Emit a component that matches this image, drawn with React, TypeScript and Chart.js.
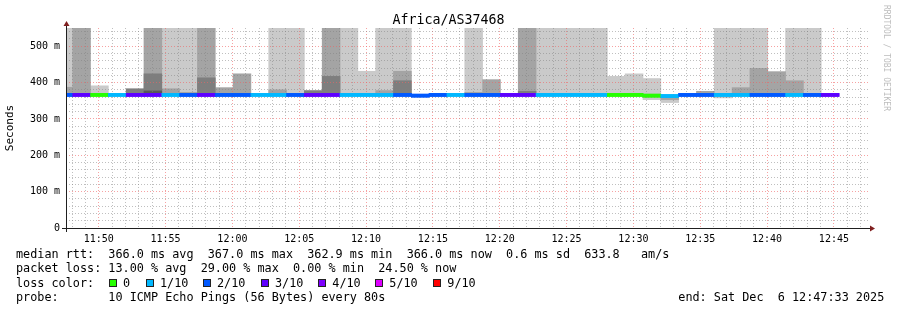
import React, { useEffect, useRef } from "react";
import { Chart, registerables } from "chart.js";

Chart.register(...registerables);

const FONT = '"DejaVu Sans Mono", "Liberation Mono", monospace';

// ---- time axis ----
const AXIS_START = "11:47:33";
const AXIS_END = "12:47:33";
const FIRST_STEP_START = "11:46:43";
const STEP_SECONDS = 80;
const xTickLabels = ["11:50", "11:55", "12:00", "12:05", "12:10", "12:15", "12:20", "12:25", "12:30", "12:35", "12:40", "12:45"];

// ---- value axis ----
const Y_MAX = 550;
const yTickValues = [0, 100, 200, 300, 400, 500];
const yTickLabels = ["0", "100 m", "200 m", "300 m", "400 m", "500 m"];

// ---- data (one entry per 80 s step) ----
const T = 600; // beyond the top of the graph
const medianMs = [
  366, 366, 366, 366, 366, 366, 366, 366, 366, 366, 366,
  366, 366, 366, 366, 366, 366, 366, 366, 366, 364, 366,
  366, 366, 366, 366, 366, 366, 366, 366, 366, 366, 366,
  364, 362.9, 366, 366, 366, 366, 366, 366, 366, 366, 366,
];
const lossTenths = [
  2, 3, 0, 1, 3, 3, 1, 2, 3, 2, 2,
  1, 1, 2, 3, 3, 1, 1, 1, 2, 2, 2,
  1, 2, 2, 3, 3, 1, 1, 1, 1, 0, 0,
  0, 1, 2, 2, 1, 1, 2, 2, 1, 2, 3,
];
type R = [number, number] | null;
const smokeLight: R[] = [
  [365, T], null, [365, 391], null, null, null, [365, T], [365, T], null, null, null,
  null, [365, T], [365, T], null, null, [365, T], [365, 431], [365, T], [365, T], null, null,
  null, [365, T], null, null, null, [365, T], [365, T], [365, T], [365, T], [365, 417], [365, 424],
  [353, 411], [345, 363], null, null, [358, T], [365, T], [365, T], null, [365, T], [365, T], null,
];
const smokeMid: R[] = [
  [365, 387], [365, T], null, null, null, [365, T], [365, 383], [365, 373], [365, T], [365, 386], [365, 424],
  null, [365, 380], null, null, [365, T], null, null, [365, 378], [365, 431], null, null,
  null, [365, 373], [365, 408], null, [365, T], null, null, null, null, null, null,
  null, [353, 363], null, [365, 376], null, [365, 386], [365, 439], [365, 430], [365, 405], null, null,
];
const smokeDark: R[] = [
  null, null, null, null, [365, 383], [365, 424], null, null, [365, 413], null, null,
  null, null, null, [365, 378], [365, 417], null, null, null, [365, 405], null, null,
  null, null, null, null, [365, 376], null, null, null, null, null, null,
  null, null, null, null, null, null, null, null, null, null, null,
];
const smokeDarker: R[] = [
  null, null, null, null, null, [365, 377], null, null, null, null, null,
  null, null, null, null, null, null, null, null, null, null, null,
  null, null, null, null, null, null, null, null, null, null, null,
  null, null, null, null, null, null, null, null, null, null, null,
];

const lossLabels = ["0", "1/10", "2/10", "3/10", "4/10", "5/10", "9/10"];
const lossColors = ["#26ff00", "#00b8ff", "#0059ff", "#5e00ff", "#7e00ff", "#dd00ff", "#ff0000"];
const smokeColors = ["#cacaca", "#a4a4a4", "#7e7e7e", "#585858"];

const statsLine1 = "median rtt:  366.0 ms avg  367.0 ms max  362.9 ms min  366.0 ms now  0.6 ms sd  633.8   am/s";
const statsLine2 = "packet loss: 13.00 % avg  29.00 % max  0.00 % min  24.50 % now";
const probeLine = "probe:       10 ICMP Echo Pings (56 Bytes) every 80s";
const endLine = "end: Sat Dec  6 12:47:33 2025";
const titleText = "Africa/AS37468";

// layout of the drawing (pixels)
const W = 897;
const H = 310;
const PAD = { left: 0, right: 29, top: 28, bottom: 62 };
const Y_AXIS_W = 66;
const X_AXIS_H = 20;

const toSec = (s: string) => {
  const p = s.split(":").map(Number);
  return p[0] * 3600 + p[1] * 60 + (p[2] || 0);
};

const lossColor = (l: number) => (l <= 5 ? lossColors[l] : lossColors[6]);

const MINOR = "rgba(128,128,128,0.5)";
const MAJOR = "rgba(240,100,100,0.6)";
const GRID_DASH = [1, 2];

const axesPlugin = {
  id: "rrdAxes",
  afterDraw(chart: any) {
    const { ctx, chartArea: a } = chart;
    // median line on top of the grid, as rrdtool does
    const meta = chart.getDatasetMeta(0);
    ctx.save();
    ctx.beginPath();
    ctx.rect(a.left, a.top, a.right - a.left, a.bottom - a.top);
    ctx.clip();
    meta.controller.draw();
    ctx.restore();

    ctx.save();
    ctx.strokeStyle = "#1f1f1f";
    ctx.lineWidth = 1;
    ctx.beginPath();
    ctx.moveTo(a.left - 4, a.bottom + 0.5);
    ctx.lineTo(a.right + 4, a.bottom + 0.5);
    ctx.moveTo(a.left + 0.5, a.bottom + 4);
    ctx.lineTo(a.left + 0.5, a.top - 4);
    ctx.stroke();
    ctx.fillStyle = "rgb(128,31,31)";
    ctx.beginPath();
    ctx.moveTo(a.right + 2, a.bottom + 0.5 - 3);
    ctx.lineTo(a.right + 2, a.bottom + 0.5 + 3);
    ctx.lineTo(a.right + 7, a.bottom + 0.5);
    ctx.closePath();
    ctx.fill();
    ctx.beginPath();
    ctx.moveTo(a.left + 0.5 - 3, a.top - 2);
    ctx.lineTo(a.left + 0.5 + 3, a.top - 2);
    ctx.lineTo(a.left + 0.5, a.top - 7);
    ctx.closePath();
    ctx.fill();
    ctx.restore();
  },
};

export default function App() {
  const ref = useRef<HTMLCanvasElement>(null);

  useEffect(() => {
    if (!ref.current) return;
    const start = toSec(AXIS_START);
    const end = toSec(AXIS_END);
    const stepStart = toSec(FIRST_STEP_START);
    const xs = medianMs.map((_, i) => stepStart + STEP_SECONDS * (i + 0.5));
    const plotWidth = W - PAD.left - PAD.right - Y_AXIS_W;
    const barPx = (plotWidth * STEP_SECONDS) / (end - start);

    const xLabelMap = new Map(xTickLabels.map((l) => [toSec(l), l] as [number, string]));
    const xTicks: number[] = [];
    for (let t = Math.ceil(start / 60) * 60; t <= end; t += 60) xTicks.push(t);
    const yLabelMap = new Map(yTickValues.map((v, i) => [v, yTickLabels[i]] as [number, string]));
    const yTicks: number[] = [];
    for (let v = 0; v < Y_MAX; v += 20) yTicks.push(v);

    const common = {
      type: "bar" as const,
      borderWidth: 0,
      grouped: false,
      clip: 0,
      barThickness: barPx,
    };
    const layer = (arr: R[], color: string) => ({
      ...common,
      data: arr
        .map((r, i) => (r ? { x: xs[i], y: r } : null))
        .filter((d) => d !== null),
      backgroundColor: color,
    });

    const chart = new Chart(ref.current, {
      type: "bar",
      data: {
        datasets: [
          {
            ...common,
            data: medianMs.map((m, i) => ({ x: xs[i], y: [m - 4.1, m + 4.1] })),
            backgroundColor: medianMs.map((_, i) => lossColor(lossTenths[i])),
          },
          layer(smokeDarker, smokeColors[3]),
          layer(smokeDark, smokeColors[2]),
          layer(smokeMid, smokeColors[1]),
          layer(smokeLight, smokeColors[0]),
        ] as any,
      },
      options: {
        animation: false,
        responsive: false,
        maintainAspectRatio: false,
        devicePixelRatio: 1,
        events: [],
        layout: { padding: PAD },
        plugins: {
          legend: { display: false },
          tooltip: { enabled: false },
          title: { display: false },
        },
        scales: {
          x: {
            type: "linear",
            min: start,
            max: end,
            offset: false,
            afterBuildTicks: (s: any) => {
              s.ticks = xTicks.map((v) => ({ value: v }));
            },
            afterFit: (s: any) => {
              s.height = X_AXIS_H;
            },
            grid: {
              offset: false,
              drawTicks: false,
              z: 1,
              color: (c: any) => (c.tick && c.tick.value % 300 === 0 ? MAJOR : MINOR),
            },
            border: { display: false, dash: GRID_DASH },
            ticks: {
              autoSkip: false,
              maxRotation: 0,
              minRotation: 0,
              padding: 5,
              color: "#000",
              font: { family: FONT, size: 10 },
              callback: (v: any) => xLabelMap.get(Number(v)) ?? "",
            },
          },
          y: {
            type: "linear",
            min: 0,
            max: Y_MAX,
            afterBuildTicks: (s: any) => {
              s.ticks = yTicks.map((v) => ({ value: v }));
            },
            afterFit: (s: any) => {
              s.width = Y_AXIS_W;
            },
            grid: {
              drawTicks: false,
              z: 1,
              color: (c: any) => (c.tick && c.tick.value % 100 === 0 ? MAJOR : MINOR),
            },
            border: { display: false, dash: GRID_DASH },
            ticks: {
              autoSkip: false,
              padding: 6,
              color: "#000",
              font: { family: FONT, size: 10 },
              callback: (v: any) => yLabelMap.get(Number(v)) ?? "",
            },
            title: {
              display: true,
              text: "Seconds",
              color: "#000",
              font: { family: FONT, size: 11 },
              padding: { top: 4, bottom: 0 },
            },
          },
        },
      } as any,
      plugins: [axesPlugin],
    });
    return () => chart.destroy();
  }, []);

  const legendTop = 247.2;
  const lineGap = 14.25;
  const legendFont: React.CSSProperties = {
    position: "absolute",
    left: 16,
    fontFamily: FONT,
    fontSize: 11.8,
    lineHeight: "14px",
    whiteSpace: "pre",
    color: "#000",
  };
  const boxLefts = [108.7, 145.7, 202.7, 260.7, 318, 375, 433];

  return (
    <div
      style={{
        position: "absolute",
        left: 0,
        top: 0,
        width: W,
        height: H,
        background: "#fff",
        overflow: "hidden",
      }}
    >
      <canvas
        ref={ref}
        width={W}
        height={H}
        style={{ position: "absolute", left: 0, top: 0, width: W, height: H }}
      />
      <div
        style={{
          position: "absolute",
          left: 0,
          top: 11.9,
          width: W,
          textAlign: "center",
          fontFamily: FONT,
          fontSize: 13.3,
          lineHeight: "16px",
          whiteSpace: "pre",
          color: "#000",
        }}
      >
        {titleText}
      </div>
      <div
        style={{
          position: "absolute",
          left: 882,
          top: 5,
          writingMode: "vertical-rl",
          fontFamily: FONT,
          fontSize: 8,
          lineHeight: "8px",
          whiteSpace: "pre",
          color: "#bdbdbd",
        }}
      >
        RRDTOOL / TOBI OETIKER
      </div>
      <div style={{ ...legendFont, top: legendTop }}>{statsLine1}</div>
      <div style={{ ...legendFont, top: legendTop + lineGap }}>{statsLine2}</div>
      <div style={{ ...legendFont, top: legendTop + lineGap * 2 }}>loss color:</div>
      {lossLabels.map((lab, i) => (
        <React.Fragment key={lab}>
          <div
            style={{
              position: "absolute",
              left: boxLefts[i],
              top: 279,
              width: 8,
              height: 8,
              boxSizing: "border-box",
              border: "1px solid #222",
              background: lossColors[i],
            }}
          />
          <div style={{ ...legendFont, left: boxLefts[i] + 14.3, top: legendTop + lineGap * 2 }}>{lab}</div>
        </React.Fragment>
      ))}
      <div style={{ ...legendFont, top: legendTop + lineGap * 3 }}>{probeLine}</div>
      <div style={{ ...legendFont, left: 678.3, top: legendTop + lineGap * 3 }}>{endLine}</div>
    </div>
  );
}
